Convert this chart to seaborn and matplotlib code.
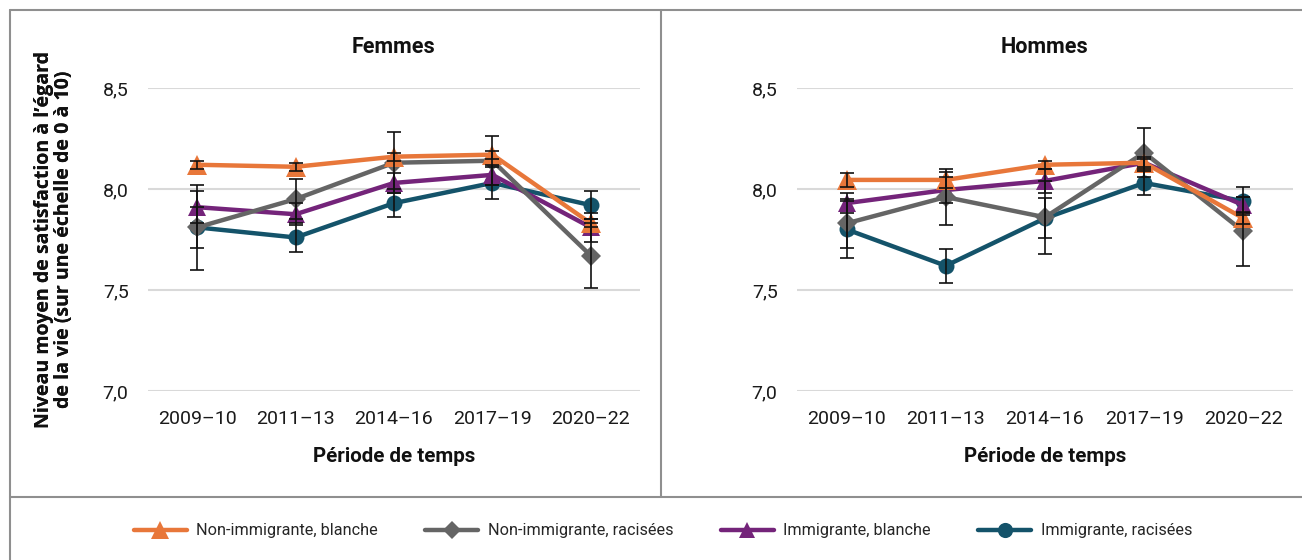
import numpy as np
import pandas as pd
import matplotlib
matplotlib.use("Agg")
import matplotlib.pyplot as plt
from matplotlib.lines import Line2D
import seaborn as sns

# Periods on the x axis
periods = ["2009–10", "2011–13", "2014–16", "2017–19", "2020–22"]
groups = ["Non-immigrante, blanche", "Non-immigrante, racisées",
          "Immigrante, blanche", "Immigrante, racisées"]
panels = ["Femmes", "Hommes"]

# Mean life satisfaction (0–10) by group, women
femmes_nib = [8.12, 8.11, 8.16, 8.17, 7.83]
femmes_nir = [7.81, 7.95, 8.13, 8.14, 7.67]
femmes_ib = [7.91, 7.875, 8.03, 8.07, 7.81]
femmes_ir = [7.81, 7.76, 7.93, 8.03, 7.92]
# Half-width of the confidence intervals, women
femmes_nib_err = [0.02, 0.02, 0.02, 0.02, 0.02]
femmes_nir_err = [0.21, 0.10, 0.15, 0.12, 0.16]
femmes_ib_err = [0.08, 0.055, 0.05, 0.05, 0.07]
femmes_ir_err = [0.10, 0.07, 0.07, 0.08, 0.07]

# Mean life satisfaction (0–10) by group, men
hommes_nib = [8.045, 8.045, 8.12, 8.13, 7.855]
hommes_nir = [7.83, 7.96, 7.86, 8.18, 7.79]
hommes_ib = [7.93, 7.995, 8.04, 8.13, 7.92]
hommes_ir = [7.80, 7.62, 7.855, 8.03, 7.94]
# Half-width of the confidence intervals, men
hommes_nib_err = [0.035, 0.04, 0.02, 0.02, 0.03]
hommes_nir_err = [0.12, 0.14, 0.18, 0.12, 0.17]
hommes_ib_err = [0.05, 0.065, 0.06, 0.03, 0.04]
hommes_ir_err = [0.14, 0.085, 0.10, 0.06, 0.07]

y_ticks = [7.0, 7.5, 8.0, 8.5]
y_tick_labels = ["7,0", "7,5", "8,0", "8,5"]

colors = {groups[0]: "#E8773A", groups[1]: "#656565",
          groups[2]: "#74247A", groups[3]: "#14536A"}
markers = {groups[0]: "^", groups[1]: "D", groups[2]: "^", groups[3]: "o"}
msizes = {groups[0]: 14, groups[1]: 10, groups[2]: 12.5, groups[3]: 11.5}

rows = []
for panel, vals, errs in [
    ("Femmes", [femmes_nib, femmes_nir, femmes_ib, femmes_ir],
     [femmes_nib_err, femmes_nir_err, femmes_ib_err, femmes_ir_err]),
    ("Hommes", [hommes_nib, hommes_nir, hommes_ib, hommes_ir],
     [hommes_nib_err, hommes_nir_err, hommes_ib_err, hommes_ir_err]),
]:
    for g, v, e in zip(groups, vals, errs):
        for p, vv, ee in zip(periods, v, e):
            rows.append({"panel": panel, "groupe": g, "periode": p,
                         "valeur": vv, "err": ee})
df = pd.DataFrame(rows)

sns.set_theme(style="white")
plt.rcParams["font.family"] = ["Roboto", "DejaVu Sans"]

W, H = 1302, 560
fig = plt.figure(figsize=(W / 100, H / 100), dpi=100)

# axes rectangles (pixels): left, right, top (8.5), bottom (7.0)
rects = [(148, 640, 88, 391), (797, 1293, 88, 391)]
draw_order = [groups[3], groups[2], groups[1], groups[0]]
ylabel = "Niveau moyen de satisfaction à l’égard\nde la vie (sur une échelle de 0 à 10)"

for panel, (x0, x1, yt, yb) in zip(panels, rects):
    ax = fig.add_axes([x0 / W, 1 - yb / H, (x1 - x0) / W, (yb - yt) / H])
    sub = df[df["panel"] == panel]
    for g in draw_order:
        d = sub[sub["groupe"] == g]
        sns.lineplot(data=d, x="periode", y="valeur", ax=ax, color=colors[g],
                     marker=markers[g], markersize=msizes[g], linewidth=3.2,
                     markeredgewidth=0, sort=False, errorbar=None, legend=False)
        xpos = [periods.index(p) for p in d["periode"]]
        ax.errorbar(xpos, d["valeur"], yerr=d["err"], fmt="none",
                    ecolor="#111111", elinewidth=1.2, capsize=5,
                    capthick=1.2, zorder=4)
    ax.set_xlim(-0.5, len(periods) - 0.5)
    ax.set_ylim(7.0, 8.5)
    ax.set_yticks(y_ticks)
    ax.set_yticklabels(y_tick_labels)
    ax.set_xticks(range(len(periods)))
    ax.set_xticklabels(periods)
    ax.grid(axis="y", color="#d9d9d9", linewidth=1.5)
    ax.grid(axis="x", visible=False)
    ax.set_axisbelow(True)
    for s in ax.spines.values():
        s.set_visible(False)
    ax.tick_params(axis="both", length=0, labelsize=14, colors="#1a1a1a")
    ax.tick_params(axis="x", pad=14)
    ax.tick_params(axis="y", pad=14)
    ax.set_xlabel("Période de temps", fontsize=14.8, fontweight="bold",
                  color="#111111")
    ax.xaxis.set_label_coords(0.5, -(447 - yb) / (yb - yt))
    ax.set_ylabel(ylabel, fontsize=14, fontweight="bold", color="#111111",
                  linespacing=1.0, family=["Open Sans", "DejaVu Sans"])
    ax.yaxis.set_label_coords(-(x0 - 74) / (x1 - x0), 0.5)
    ax.text(0.5, 1 + (yt - 47) / (yb - yt), panel, transform=ax.transAxes,
            ha="center", va="center", fontsize=15.5, fontweight="bold",
            color="#111111")

# frame lines around the panels and the legend area
border = "#8f8f8f"
for (xa, ya, xb, yb_) in [(10, 10, 1302, 10), (10, 10, 10, 560),
                          (661, 10, 661, 497), (10, 497, 1302, 497)]:
    fig.add_artist(Line2D([xa / W, xb / W], [1 - ya / H, 1 - yb_ / H],
                          transform=fig.transFigure, color=border, lw=1.5))

handles = [Line2D([], [], color=colors[g], marker=markers[g],
                  markersize=msizes[g] * 0.95, lw=3.2, markeredgewidth=0)
           for g in groups]
fig.legend(handles, groups, loc="center", bbox_to_anchor=(663 / W, 1 - 531 / H),
           ncol=4, frameon=False, handlelength=3.26,
           columnspacing=2.9, handletextpad=0.6,
           prop={"family": ["Roboto", "DejaVu Sans"], "size": 11.7})

fig.savefig("out.png", dpi=100)
